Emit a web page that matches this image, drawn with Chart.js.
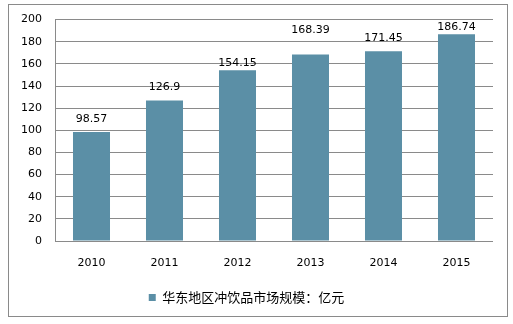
<!DOCTYPE html>
<html>
<head>
<meta charset="utf-8">
<script src="https://cdn.jsdelivr.net/npm/chart.js@4"></script>
<style>
  html, body { margin: 0; padding: 0; background: #fff; }
  #wrap { width: 513px; height: 324px; }
</style>
</head>
<body>
<div id="wrap"><canvas id="myChart" width="513" height="324"></canvas></div>
<script>
const years = ['2010', '2011', '2012', '2013', '2014', '2015'];
const marketSize = [98.57, 126.9, 154.15, 168.39, 171.45, 186.74];
const seriesName = '华东地区冲饮品市场规模：亿元';
const yTicks = [0, 20, 40, 60, 80, 100, 120, 140, 160, 180, 200];

// how far each value label sits above its bar (px), as in the picture
const labelLift = [7, 8, 1.5, 18.5, 8, 1.5];

const frame = {
  id: 'frame',
  beforeDraw(chart) {
    const c = chart.ctx;
    c.save();
    c.fillStyle = '#fff';
    c.fillRect(0, 0, chart.width, chart.height);
    c.strokeStyle = '#8a8a8a';
    c.lineWidth = 1;
    c.strokeRect(8.5, 4.5, 499, 312);
    c.restore();
  }
};

const valueLabels = {
  id: 'valueLabels',
  afterDatasetsDraw(chart) {
    const c = chart.ctx;
    const meta = chart.getDatasetMeta(0);
    c.save();
    c.font = '11px "DejaVu Sans"';
    c.fillStyle = '#000';
    c.textAlign = 'center';
    c.textBaseline = 'bottom';
    meta.data.forEach((bar, i) => {
      c.fillText(String(marketSize[i]), bar.x, bar.y - labelLift[i]);
    });
    c.restore();
  }
};

function createMyChart() {
  const ctx = document.getElementById('myChart');
  new Chart(ctx, {
    type: 'bar',
    data: {
      labels: years,
      datasets: [{
        label: seriesName,
        data: marketSize,
        backgroundColor: '#5b8fa6',
        borderWidth: 0,
        categoryPercentage: 1,
        barPercentage: 0.507
      }]
    },
    options: {
      responsive: false,
      animation: false,
      layout: { padding: { top: 18, right: 20, bottom: 10, left: 0 } },
      scales: {
        x: {
          grid: { display: false, drawTicks: false },
          border: { display: false },
          ticks: { color: '#000', font: { family: 'DejaVu Sans', size: 11 }, padding: 16 },
          afterFit(scale) { scale.height = 40; }
        },
        y: {
          min: 0,
          max: 200,
          afterBuildTicks(scale) { scale.ticks = yTicks.map(v => ({ value: v })); },
          grid: { color: '#8a8a8a', lineWidth: 1, drawTicks: false },
          border: { display: true, color: '#8a8a8a' },
          ticks: { color: '#000', font: { family: 'DejaVu Sans', size: 11 }, padding: 13 },
          afterFit(scale) { scale.width = 55; }
        }
      },
      plugins: {
        legend: {
          position: 'bottom',
          labels: {
            boxWidth: 7,
            boxHeight: 7,
            padding: 10,
            color: '#000',
            font: { family: 'Noto Sans CJK SC', size: 13 }
          }
        },
        tooltip: { enabled: false }
      }
    },
    plugins: [frame, valueLabels]
  });
}
createMyChart();
</script>
</body>
</html>
